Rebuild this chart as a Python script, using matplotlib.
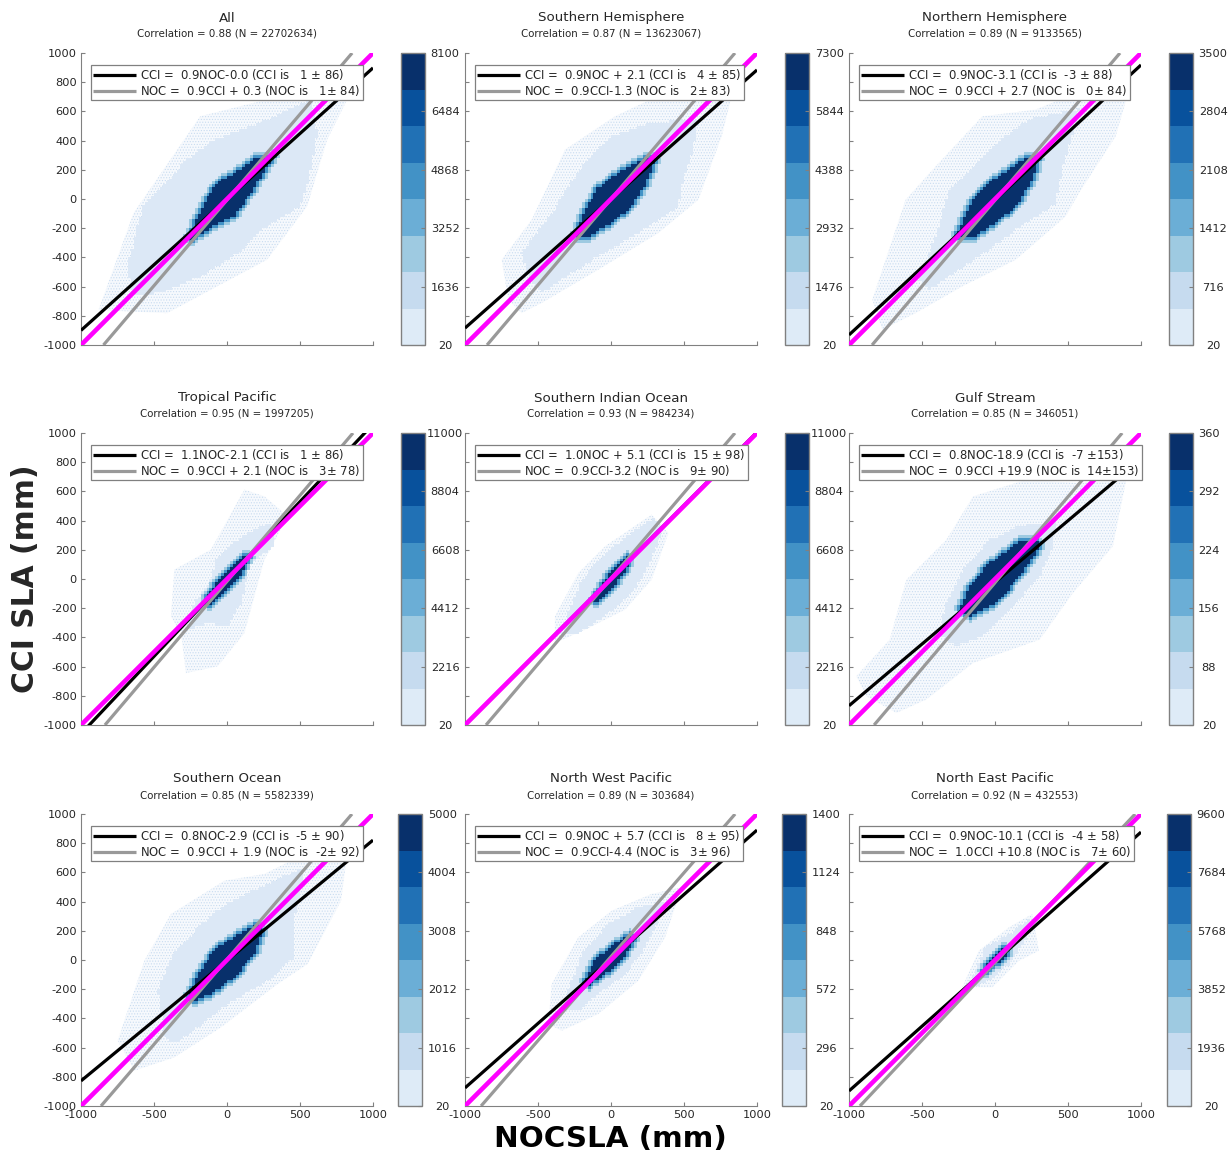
import matplotlib
matplotlib.use('Agg')
import matplotlib.pyplot as plt
import numpy as np
from matplotlib.cm import ScalarMappable
from matplotlib.colors import ListedColormap, Normalize
from matplotlib.path import Path

plt.rcParams['axes.unicode_minus'] = False
plt.rcParams['hatch.linewidth'] = 0.5

W, H = 1231, 1153

titles = ['All', 'Southern Hemisphere', 'Northern Hemisphere',
          'Tropical Pacific', 'Southern Indian Ocean', 'Gulf Stream',
          'Southern Ocean', 'North West Pacific', 'North East Pacific']
subtitles = ['Correlation = 0.88 (N = 22702634)', 'Correlation = 0.87 (N = 13623067)',
             'Correlation = 0.89 (N = 9133565)', 'Correlation = 0.95 (N = 1997205)',
             'Correlation = 0.93 (N = 984234)', 'Correlation = 0.85 (N = 346051)',
             'Correlation = 0.85 (N = 5582339)', 'Correlation = 0.89 (N = 303684)',
             'Correlation = 0.92 (N = 432553)']
cci_text = ['CCI =  0.9NOC-0.0 (CCI is   1 $\\pm$ 86)', 'CCI =  0.9NOC + 2.1 (CCI is   4 $\\pm$ 85)',
            'CCI =  0.9NOC-3.1 (CCI is  -3 $\\pm$ 88)', 'CCI =  1.1NOC-2.1 (CCI is   1 $\\pm$ 86)',
            'CCI =  1.0NOC + 5.1 (CCI is  15 $\\pm$ 98)', 'CCI =  0.8NOC-18.9 (CCI is  -7 $\\pm$153)',
            'CCI =  0.8NOC-2.9 (CCI is  -5 $\\pm$ 90)', 'CCI =  0.9NOC + 5.7 (CCI is   8 $\\pm$ 95)',
            'CCI =  0.9NOC-10.1 (CCI is  -4 $\\pm$ 58)']
noc_text = ['NOC =  0.9CCI + 0.3 (NOC is   1$\\pm$ 84)', 'NOC =  0.9CCI-1.3 (NOC is   2$\\pm$ 83)',
            'NOC =  0.9CCI + 2.7 (NOC is   0$\\pm$ 84)', 'NOC =  0.9CCI + 2.1 (NOC is   3$\\pm$ 78)',
            'NOC =  0.9CCI-3.2 (NOC is   9$\\pm$ 90)', 'NOC =  0.9CCI +19.9 (NOC is  14$\\pm$153)',
            'NOC =  0.9CCI + 1.9 (NOC is  -2$\\pm$ 92)', 'NOC =  0.9CCI-4.4 (NOC is   3$\\pm$ 96)',
            'NOC =  1.0CCI +10.8 (NOC is   7$\\pm$ 60)']

# black line: y at x=-1000 and x=1000, grey line: x at y=-1000 and y=1000
black_y = [(-900, 898), (-884, 884), (-931, 918), (-1060, 1060), (-1000, 1005),
           (-868, 822), (-828, 821), (-876, 890), (-897, 876)]
grey_x = [(-846, 857), (-849, 849), (-842, 856), (-836, 863), (-856, 849),
          (-828, 871), (-863, 856), (-890, 850), (-925, 960)]

cbar_ticks = [[20, 1636, 3252, 4868, 6484, 8100], [20, 1476, 2932, 4388, 5844, 7300],
              [20, 716, 1412, 2108, 2804, 3500], [20, 2216, 4412, 6608, 8804, 11000],
              [20, 2216, 4412, 6608, 8804, 11000], [20, 88, 156, 224, 292, 360],
              [20, 1016, 2012, 3008, 4004, 5000], [20, 296, 572, 848, 1124, 1400],
              [20, 1936, 3852, 5768, 7684, 9600]]

blues = ['#deebf7', '#c6dbef', '#9ecae1', '#6baed6', '#4292c6', '#2171b5', '#08519c', '#08306b']

# outlines of the density cloud (NOC, CCI): dark core, solid body, speckled fringe
core_all = [(-274, -302), (-183, -73), (-69, 110), (46, 178), (183, 270), (320, 293),
            (274, 224), (183, 64), (46, -119), (-91, -187)]
body_all = [(-686, -462), (-571, -50), (-274, 270), (-91, 407), (229, 521), (571, 681),
            (617, 453), (549, 87), (503, -50), (274, -187), (46, -393), (-183, -530),
            (-457, -645), (-640, -667)]
fringe_all = [(-880, -760), (-640, -96), (-183, 567), (274, 681), (731, 795), (823, 681),
              (686, 407), (549, -50), (274, -416), (-411, -782)]

core_sh = [(-247, -267), (-178, -73), (-87, 75), (73, 201), (256, 292), (301, 270),
           (233, 87), (142, -50), (5, -164), (-155, -256)]
body_sh = [(-543, -575), (-612, -370), (-406, -96), (-200, 224), (5, 429), (279, 521),
           (598, 543), (553, 315), (484, 87), (461, -50), (187, -233), (-87, -393),
           (-338, -552), (-475, -644)]
fringe_sh = [(-703, -689), (-749, -416), (-543, -142), (-315, 338), (27, 566), (415, 749),
             (826, 703), (758, 429), (598, -5), (324, -233), (-87, -484), (-475, -712),
             (-612, -781)]

core_nh = [(-269, -256), (-155, -5), (5, 144), (187, 269), (301, 292), (256, 132),
           (164, -27), (5, -164), (-155, -267)]
body_nh = [(-521, -552), (-384, -187), (-315, 64), (-155, 224), (27, 406), (233, 543),
           (575, 612), (461, 201), (415, -27), (210, -164), (-41, -347), (-315, -530),
           (-452, -621)]
fringe_nh = [(-840, -689), (-772, -484), (-612, -5), (-406, 224), (-87, 566), (279, 612),
             (552, 726), (918, 749), (826, 429), (575, 41), (484, -119), (142, -416),
             (-224, -598), (-543, -781), (-772, -895)]

core_tp = [(-155, -142), (-87, -50), (5, 64), (119, 167), (153, 155), (73, -5), (-18, -96),
           (-121, -187)]
body_tp = [(-269, -347), (-224, -164), (-110, -5), (-64, 155), (96, 292), (301, 384),
           (324, 224), (164, 110), (96, -164), (5, -324), (-132, -301)]
fringe_tp = [(-384, -256), (-361, 64), (-110, 201), (119, 612), (256, 566), (416, 429),
             (256, 132), (119, -370), (-64, -598), (-281, -644), (-315, -370)]

core_si = [(-121, -142), (-41, -5), (73, 132), (130, 167), (119, 87), (5, -73), (-98, -164)]
body_si = [(-338, -393), (-292, -233), (-200, -5), (-41, 178), (142, 315), (301, 429),
           (347, 315), (256, 87), (164, -73), (-41, -256), (-224, -370)]
fringe_si = [(-384, -438), (-384, -256), (-224, 41), (-41, 224), (278, 441), (393, 315),
             (278, -5), (96, -210), (-178, -347)]

core_gs = [(-242, -210), (-173, -50), (-36, 110), (146, 247), (306, 269), (283, 178),
           (169, 18), (9, -164), (-173, -256)]
body_gs = [(-379, -392), (-333, -164), (-219, 64), (-36, 269), (169, 360), (420, 406),
           (397, 224), (306, 18), (123, -187), (-82, -392), (-264, -461)]
fringe_gs = [(-950, -666), (-721, -415), (-607, -5), (-333, 269), (-150, 566), (214, 680),
             (579, 657), (899, 680), (807, 224), (534, -96), (306, -415), (-150, -575),
             (-470, -825), (-675, -917), (-880, -803)]

core_so = [(-258, -244), (-201, -96), (-87, 64), (73, 178), (210, 247), (244, 201),
           (187, 41), (50, -119), (-110, -233), (-224, -278)]
body_so = [(-429, -530), (-475, -210), (-384, 18), (-178, 247), (27, 406), (279, 521),
           (530, 635), (461, 269), (461, 18), (279, -142), (5, -301), (-201, -461),
           (-361, -575)]
fringe_so = [(-749, -552), (-566, -5), (-384, 315), (-18, 543), (256, 589), (484, 703),
             (826, 749), (781, 406), (552, -27), (347, -164), (-41, -461), (-361, -667),
             (-635, -758)]

core_nw = [(-178, -142), (-110, -5), (5, 98), (130, 178), (164, 132), (73, -5), (-41, -96),
           (-155, -176)]
body_nw = [(-292, -347), (-292, -210), (-200, 41), (-18, 247), (187, 361), (370, 406),
           (301, 224), (210, 41), (73, -119), (-87, -233), (-224, -347)]
fringe_nw = [(-429, -438), (-406, -164), (-224, 155), (5, 338), (278, 452), (484, 498),
             (370, 155), (187, -142), (-87, -370), (-338, -484)]

core_ne = [(-87, -73), (5, 41), (84, 98), (73, 18), (-18, -50), (-64, -96)]
body_ne = [(-201, -210), (-132, -73), (-64, 87), (96, 178), (256, 292), (210, 132),
           (96, -27), (-41, -142)]
fringe_ne = [(-224, -187), (-110, 64), (96, 224), (256, 315), (301, 64), (164, -5),
             (-18, -187)]

cores = [core_all, core_sh, core_nh, core_tp, core_si, core_gs, core_so, core_nw, core_ne]
bodies = [body_all, body_sh, body_nh, body_tp, body_si, body_gs, body_so, body_nw, body_ne]
fringes = [fringe_all, fringe_sh, fringe_nh, fringe_tp, fringe_si, fringe_gs, fringe_so,
           fringe_nw, fringe_ne]

ax_left = [81, 465, 849]
ax_top = [53, 433, 814]
cbar_left = [[401, 785, 1169], [401, 785, 1169], [398, 782, 1167]]
ax_size = 292
cbar_w = 24

line_col = '#808080'
text_col = '#262626'

edges = np.arange(-1000, 1001, 20)
mids = (edges[:-1] + edges[1:]) / 2
gx, gy = np.meshgrid(mids, mids)
cells = np.column_stack([gx.ravel(), gy.ravel()])


def inside(outline):
    return Path(outline + [outline[0]]).contains_points(cells).reshape(gx.shape)


def grow(mask):
    out = mask.copy()
    out[1:, :] |= mask[:-1, :]
    out[:-1, :] |= mask[1:, :]
    out[:, 1:] |= mask[:, :-1]
    out[:, :-1] |= mask[:, 1:]
    return out


cloud_cmap = ListedColormap(['#dce8f6', blues[2], blues[4], blues[7]])


def px_rect(x, y, w, h):
    return [x / W, 1 - (y + h) / H, w / W, h / H]


fig = plt.figure(figsize=(W / 100, H / 100), dpi=100)

for i in range(9):
    row, col = i // 3, i % 3
    ax = fig.add_axes(px_rect(ax_left[col], ax_top[row], ax_size, ax_size))

    # speckled fringe as a pale stipple, the rest as binned cells
    fx, fy = zip(*fringes[i])
    ax.fill(fx, fy, facecolor='#f6f9fd', edgecolor='#c9dcf0', hatch='......', lw=0, zorder=1)

    levels = np.zeros(gx.shape)
    core = inside(cores[i])
    levels[grow(grow(core))] = 1
    levels[grow(core)] = 2
    levels[core] = 3
    body = inside(bodies[i]) | (levels > 0)
    ax.pcolormesh(edges, edges, np.ma.masked_where(~body, levels), cmap=cloud_cmap,
                  vmin=0, vmax=3, rasterized=True, zorder=2)

    ax.plot([-1000, 1000], black_y[i], color='black', lw=2.3, solid_capstyle='butt',
            label=cci_text[i], zorder=3)
    ax.plot(grey_x[i], [-1000, 1000], color='#999999', lw=2.3, solid_capstyle='butt',
            label=noc_text[i], zorder=4)
    ax.plot([-1000, 1000], [-1000, 1000], color='#ff00ff', lw=3.3, solid_capstyle='butt', zorder=5)

    ax.set_xlim(-1000, 1000)
    ax.set_ylim(-1000, 1000)
    ax.set_xticks([-1000, -500, 0, 500, 1000])
    ax.set_yticks(np.arange(-1000, 1001, 200))
    ax.tick_params(direction='in', length=3, width=0.8, color=line_col, labelsize=8.2,
                   labelcolor=text_col, pad=3)
    if col > 0:
        ax.set_yticklabels([])
    if row < 2:
        ax.set_xticklabels([])
    ax.spines['top'].set_visible(False)
    ax.spines['right'].set_visible(False)
    ax.spines['left'].set_color(line_col)
    ax.spines['bottom'].set_color(line_col)

    ax.text(0.5, 1 + 35 / ax_size, titles[i], transform=ax.transAxes, ha='center', va='center',
            fontsize=9.6, color=text_col)
    ax.text(0.5, 1 + 19 / ax_size, subtitles[i], transform=ax.transAxes, ha='center', va='center',
            fontsize=7.4, color=text_col)

    leg = ax.legend(loc='upper left', bbox_to_anchor=(10 / ax_size, 1 - 12 / ax_size),
                    borderaxespad=0, fontsize=8.35, fancybox=False, framealpha=1,
                    edgecolor=line_col, handlelength=3.7, handletextpad=0.35,
                    borderpad=0.2, labelspacing=0.05, labelcolor=text_col)
    leg.get_frame().set_linewidth(0.9)
    leg.set_zorder(10)

    cax = fig.add_axes(px_rect(cbar_left[row][col], ax_top[row], cbar_w, ax_size))
    ticks = cbar_ticks[i]
    sm = ScalarMappable(Normalize(ticks[0], ticks[-1]), ListedColormap(blues))
    cb = fig.colorbar(sm, cax=cax, ticks=ticks)
    cb.outline.set_edgecolor(line_col)
    cb.outline.set_linewidth(1)
    pad = 11.5 if ticks[-1] < 1000 else 14.5
    cax.tick_params(direction='in', length=3, width=0.8, color=line_col, labelsize=8.2,
                    labelcolor=text_col, pad=pad)
    for lab in cax.get_yticklabels():
        lab.set_ha('center')

fig.text(26 / W, 1 - 579 / H, 'CCI SLA (mm)', rotation=90, ha='center', va='center',
         fontsize=21.4, fontweight='bold', color=text_col)
fig.text(610 / W, 1 - 1139 / H, 'NOCSLA (mm)', ha='center', va='center',
         fontsize=21.2, fontweight='bold', color='black')

fig.savefig('out.png', dpi=100)
